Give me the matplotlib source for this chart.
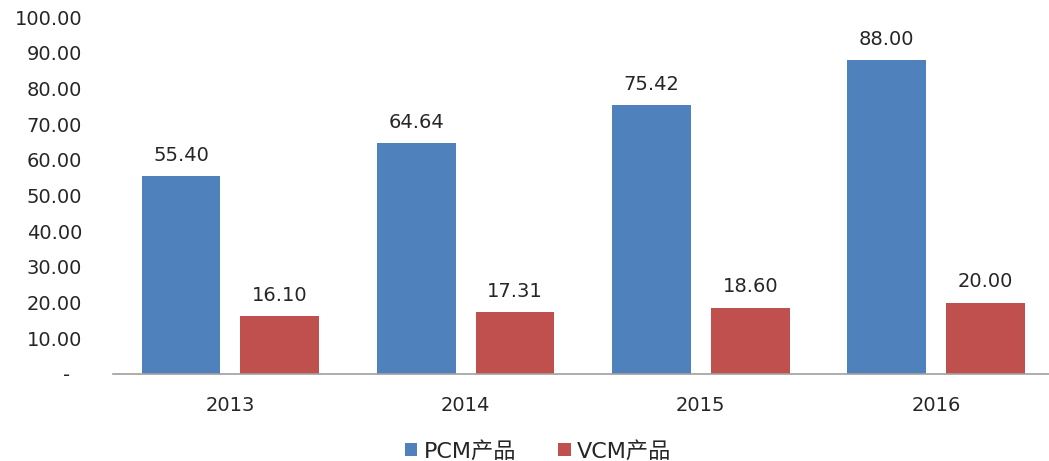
import numpy as np
import matplotlib.pyplot as plt

plt.rcParams['font.family'] = ['DejaVu Sans', 'Noto Sans CJK SC']

years = ['2013', '2014', '2015', '2016']
pcm = [55.40, 64.64, 75.42, 88.00]
vcm = [16.10, 17.31, 18.60, 20.00]
series_names = ['PCM产品', 'VCM产品']

fig = plt.figure(figsize=(10.49, 4.61), dpi=100)
ax = fig.add_axes([0.1075, 0.189, 0.8925, 0.774])

x = np.arange(len(years))
w = 0.335
b1 = ax.bar(x - 0.21, pcm, w, color='#4f81bd', label=series_names[0])
b2 = ax.bar(x + 0.21, vcm, w, color='#c0504d', label=series_names[1])

for bars in (b1, b2):
    for r in bars:
        ax.annotate('%.2f' % r.get_height(), (r.get_x() + r.get_width() / 2, r.get_height()),
                    xytext=(0, 8), textcoords='offset points', ha='center', va='bottom',
                    fontsize=14, color='#262626')

ax.set_xlim(-0.5, 3.48)
ax.set_ylim(0, 100)
ax.set_yticks(np.arange(0, 101, 10))
ax.set_yticklabels(['-  '] + ['%.2f' % v for v in range(10, 101, 10)])
ax.set_xticks(x)
ax.set_xticklabels(years)
ax.tick_params(axis='both', length=0, labelsize=14, colors='#262626')
ax.tick_params(axis='x', pad=16)
ax.tick_params(axis='y', pad=22)

for s in ['top', 'right', 'left']:
    ax.spines[s].set_visible(False)
ax.spines['bottom'].set_color('#a0a0a0')
ax.spines['bottom'].set_linewidth(1.2)

leg = fig.legend(handles=[b1, b2], labels=series_names, loc='center',
                 bbox_to_anchor=(0.513, 0.022), ncol=2, frameon=False,
                 handlelength=0.55, handleheight=0.55, handletextpad=0.3, columnspacing=1.9,
                 prop={'family': ['DejaVu Sans', 'Noto Sans CJK SC'], 'size': 16})
for t in leg.get_texts():
    t.set_color('#262626')

fig.savefig('out.png', dpi=100)
